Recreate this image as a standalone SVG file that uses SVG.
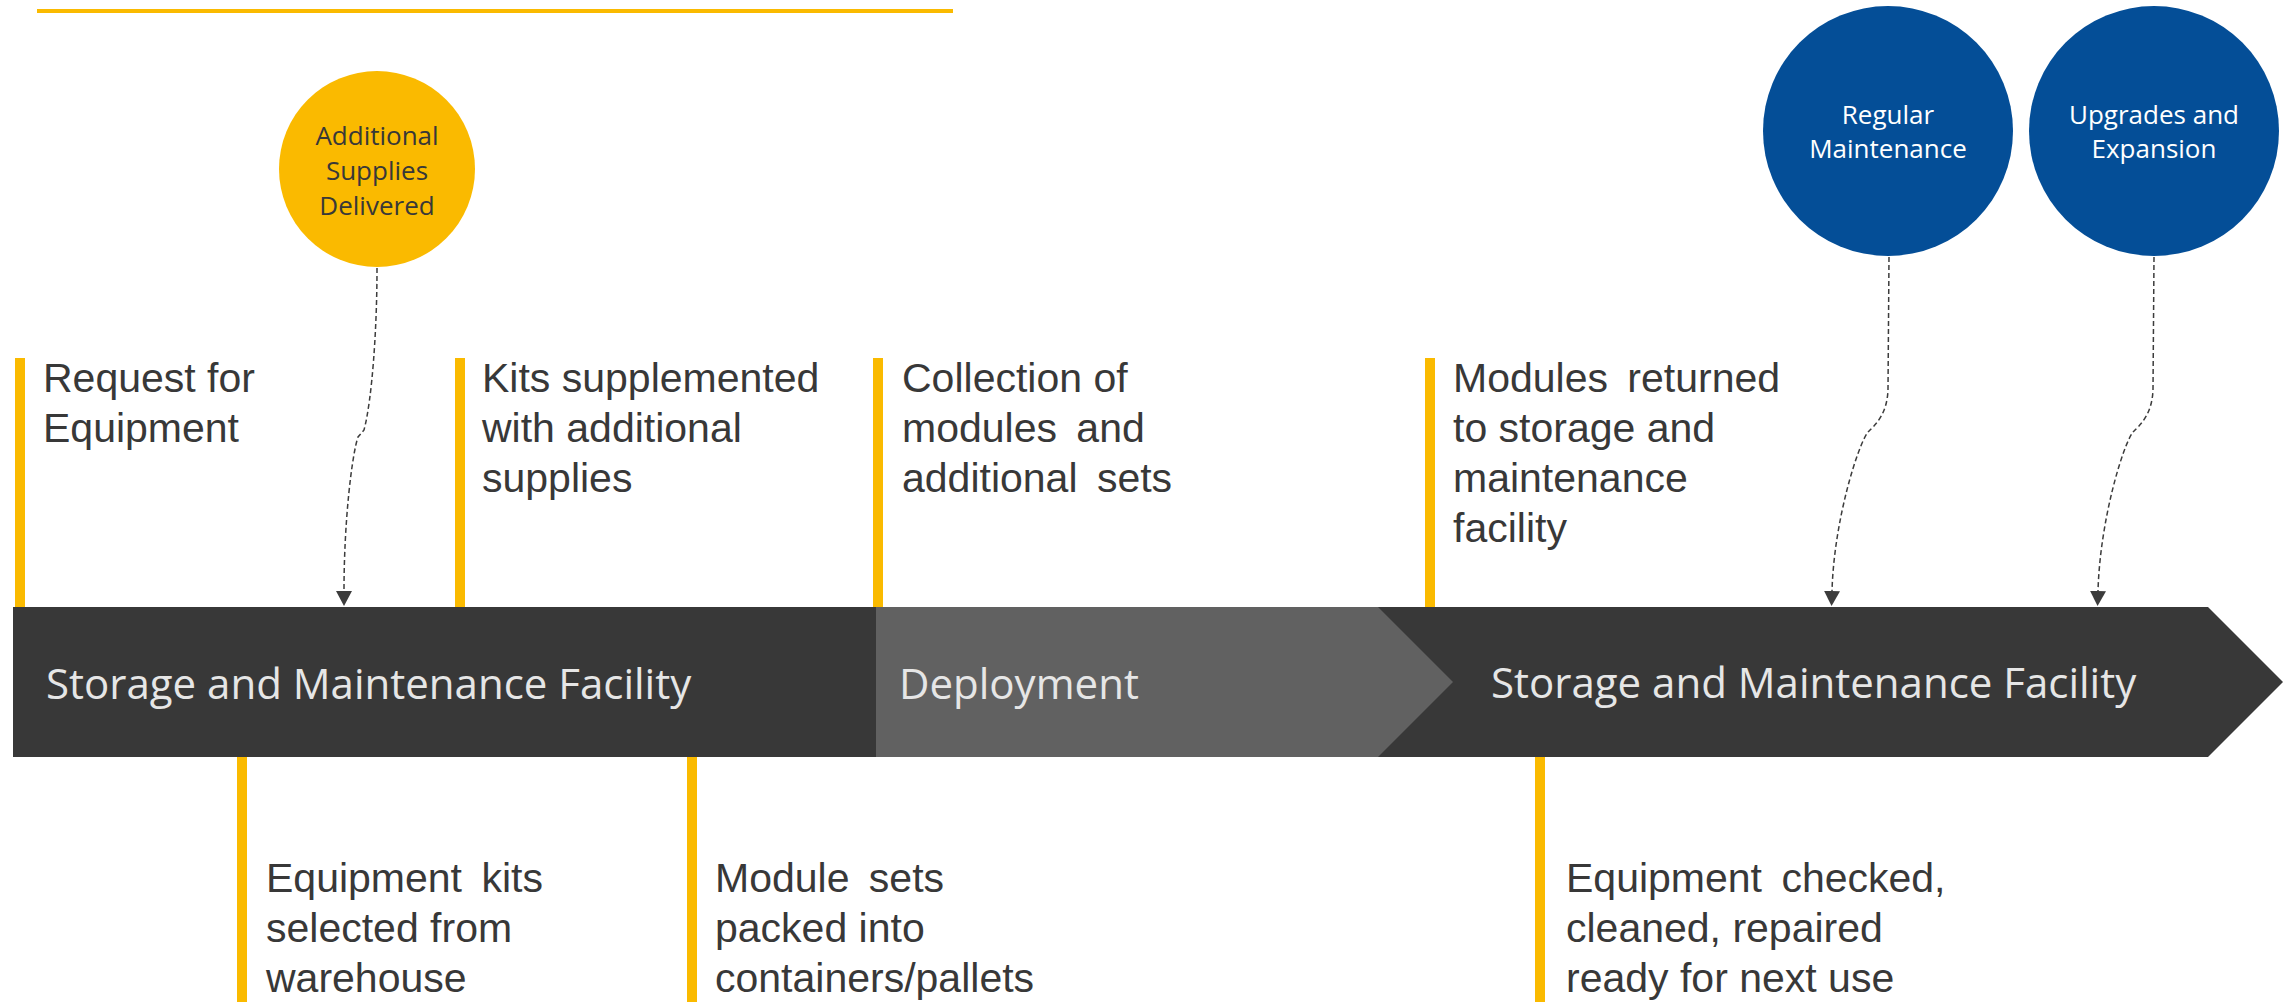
<svg xmlns="http://www.w3.org/2000/svg" width="2295" height="1002" viewBox="0 0 2295 1002">
<style>
.lbl{font-family:"Liberation Sans",Arial,sans-serif;font-size:41px;fill:#383838}
.ws{word-spacing:8px}
.bar{font-family:"Open Sans","Noto Sans",sans-serif;font-size:42px;fill:#e6e6e6}
.ctxt{font-family:"Open Sans","Noto Sans",sans-serif;font-size:26px;text-anchor:middle}
.tick{fill:#FABA00}
.conn{fill:none;stroke:#3c3c3c;stroke-width:1.5;stroke-dasharray:5 3}
</style>
<defs>
<marker id="arr" viewBox="0 0 15 16" refX="0" refY="8" markerWidth="15" markerHeight="16" markerUnits="userSpaceOnUse" orient="auto">
<path d="M0,0 L15,8 L0,16 z" fill="#3c3c3c"/>
</marker>
</defs>
<rect width="2295" height="1002" fill="#ffffff"/>
<rect x="37" y="9" width="916" height="4" fill="#FABA00"/>

<g id="bar-storage-1">
<rect x="13" y="607" width="864" height="150" fill="#383838"/>
<text class="bar" x="46" y="699">Storage and Maintenance Facility</text>
</g>
<g id="bar-storage-2">
<polygon points="1378,607 2208,607 2283,682 2208,757 1378,757" fill="#383838"/>
<text class="bar" x="1491" y="698">Storage and Maintenance Facility</text>
</g>
<g id="bar-deployment">
<polygon points="876,607 1378,607 1453,682 1378,757 876,757" fill="#616161"/>
<text class="bar" x="899" y="699">Deployment</text>
</g>

<g id="event-request">
<rect class="tick" x="15" y="358" width="10" height="249"/>
<text class="lbl" x="43" y="392">Request for</text>
<text class="lbl" x="43" y="442">Equipment</text>
</g>
<g id="event-kits-supplemented">
<rect class="tick" x="455" y="358" width="10" height="249"/>
<text class="lbl" x="482" y="392">Kits supplemented</text>
<text class="lbl" x="482" y="442">with additional</text>
<text class="lbl" x="482" y="492">supplies</text>
</g>
<g id="event-collection">
<rect class="tick" x="873" y="358" width="10" height="249"/>
<text class="lbl" x="902" y="392">Collection of</text>
<text class="lbl ws" x="902" y="442">modules and</text>
<text class="lbl ws" x="902" y="492">additional sets</text>
</g>
<g id="event-returned">
<rect class="tick" x="1425" y="358" width="10" height="249"/>
<text class="lbl ws" x="1453" y="392">Modules returned</text>
<text class="lbl" x="1453" y="442">to storage and</text>
<text class="lbl" x="1453" y="492">maintenance</text>
<text class="lbl" x="1453" y="542">facility</text>
</g>
<g id="event-kits-selected">
<rect class="tick" x="237" y="757" width="10" height="245"/>
<text class="lbl ws" x="266" y="892">Equipment kits</text>
<text class="lbl" x="266" y="942">selected from</text>
<text class="lbl" x="266" y="992">warehouse</text>
</g>
<g id="event-packed">
<rect class="tick" x="687" y="757" width="10" height="245"/>
<text class="lbl ws" x="715" y="892">Module sets</text>
<text class="lbl" x="715" y="942">packed into</text>
<text class="lbl" x="715" y="992">containers/pallets</text>
</g>
<g id="event-checked">
<rect class="tick" x="1535" y="757" width="10" height="245"/>
<text class="lbl ws" x="1566" y="892">Equipment checked,</text>
<text class="lbl" x="1566" y="942">cleaned, repaired</text>
<text class="lbl" x="1566" y="992">ready for next use</text>
</g>

<g id="circle-additional-supplies">
<circle cx="377" cy="169" r="98" fill="#FABA00"/>
<text class="ctxt" x="377" y="145" fill="#383838">Additional</text>
<text class="ctxt" x="377" y="180" fill="#383838">Supplies</text>
<text class="ctxt" x="377" y="215" fill="#383838">Delivered</text>
</g>
<g id="circle-regular-maintenance">
<circle cx="1888" cy="131" r="125" fill="#044E97"/>
<text class="ctxt" x="1888" y="124" fill="#ffffff">Regular</text>
<text class="ctxt" x="1888" y="158" fill="#ffffff">Maintenance</text>
</g>
<g id="circle-upgrades">
<circle cx="2154" cy="131" r="125" fill="#044E97"/>
<text class="ctxt" x="2154" y="124" fill="#ffffff">Upgrades and</text>
<text class="ctxt" x="2154" y="158" fill="#ffffff">Expansion</text>
</g>

<g id="connectors">
<path class="conn" d="M377,268 C377,330 372,400 364,430 L358,437 C352,455 344,520 344,591" marker-end="url(#arr)"/>
<path class="conn" d="M1889,257 L1888,390 C1887,415 1875,425 1868,432 C1858,445 1834,520 1832,591" marker-end="url(#arr)"/>
<path class="conn" d="M2154,257 L2153,390 C2152,415 2140,425 2133,432 C2123,445 2100,520 2098,591" marker-end="url(#arr)"/>
</g>
</svg>
